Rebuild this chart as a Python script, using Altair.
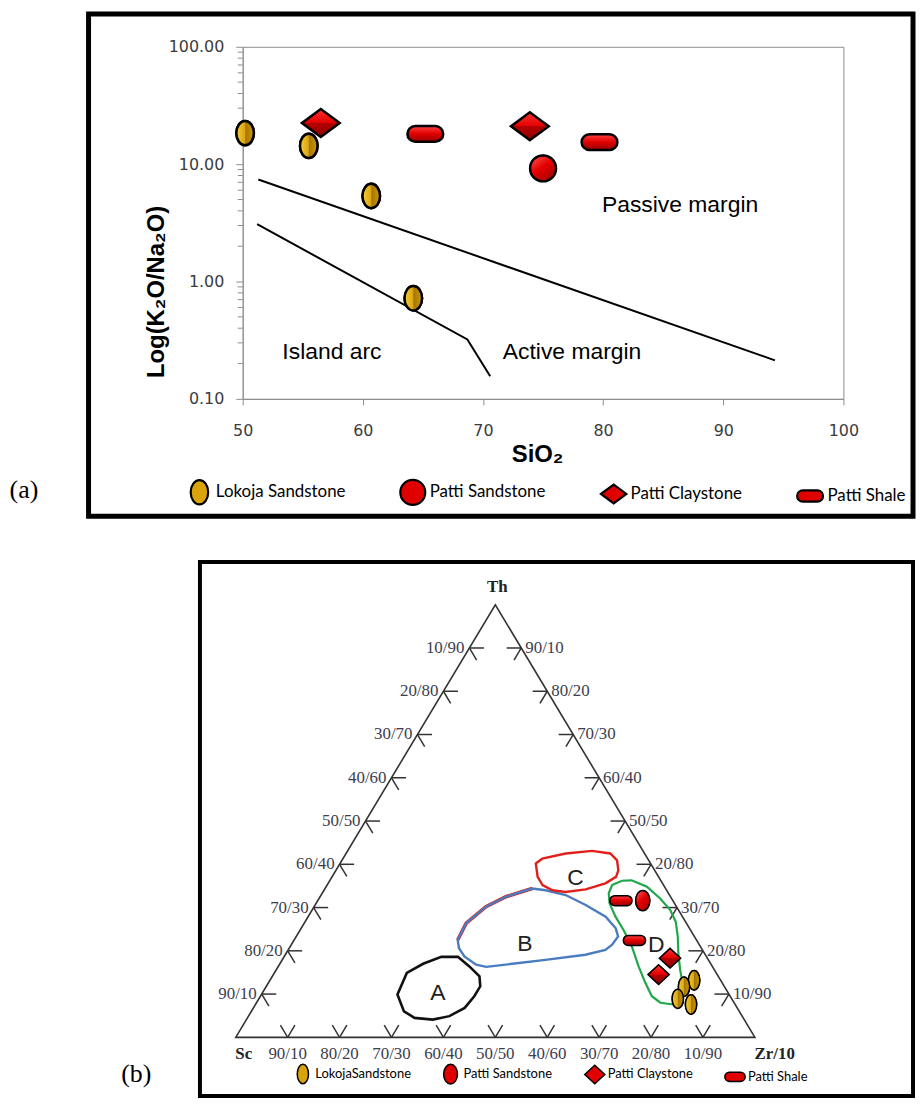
import altair as alt
import pandas as pd

# ======================= DATA =======================
rock_types = ["Lokoja Sandstone", "Patti Sandstone", "Patti Claystone", "Patti Shale"]

# ---- (a) K2O/Na2O (log) vs SiO2 ----
lokoja_sio2 = [50.2, 55.5, 60.7, 64.2]
lokoja_k2o_na2o = [18.4, 14.3, 5.35, 0.72]
patti_sandstone_sio2 = [75.0]
patti_sandstone_k2o_na2o = [9.2]
patti_claystone_sio2 = [56.5, 73.9]
patti_claystone_k2o_na2o = [22.4, 21.0]
patti_shale_sio2 = [65.2, 79.7]
patti_shale_k2o_na2o = [18.1, 15.4]

passive_line_sio2 = [51.3, 94.3]
passive_line_ratio = [7.4, 0.213]
arc_line_sio2 = [51.2, 68.7, 70.6]
arc_line_ratio = [3.08, 0.321, 0.156]

setting_names = ["Passive margin", "Island arc", "Active margin"]
setting_sio2 = [79.9, 53.3, 71.65]
setting_ratio = [4.48, 0.249, 0.249]

sio2_ticks = [50, 60, 70, 80, 90, 100]
ratio_ticks = [0.1, 1.0, 10.0, 100.0]
ratio_minor_ticks = [0.2, 0.3, 0.4, 0.5, 0.6, 0.7, 0.8, 0.9,
                     2, 3, 4, 5, 6, 7, 8, 9,
                     20, 30, 40, 50, 60, 70, 80, 90]

# ---- (b) Th - Sc - Zr/10 ternary (percent) ----
lokoja_th = [13.2, 11.7, 8.9, 7.6]
lokoja_sc = [5.1, 7.8, 10.4, 8.5]
lokoja_zr = [81.7, 80.5, 80.7, 83.9]
patti_sandstone_th = [31.6]
patti_sandstone_sc = [5.8]
patti_sandstone_zr = [62.6]
patti_claystone_th = [18.3, 14.5]
patti_claystone_sc = [7.2, 11.3]
patti_claystone_zr = [74.5, 74.2]
patti_shale_th = [31.6, 22.4]
patti_shale_sc = [10.0, 12.0]
patti_shale_zr = [58.4, 65.6]

# provenance fields (outline vertices as Th %, Zr/10 %; Sc = remainder)
field_a_th = [9.9, 14.9, 17.0, 18.6, 18.6, 16.4, 14.1, 11.8, 9.5, 6.8, 4.9, 4.1, 4.5, 6.0]
field_a_zr = [26.2, 25.5, 27.6, 30.3, 33.5, 36.8, 39.9, 41.2, 41.2, 40.7, 38.7, 35.9, 32.2, 29.4]
field_b_th = [22.5, 26.4, 30.2, 32.5, 34.4, 34.0, 32.9, 30.6, 27.9, 25.2, 23.3, 21.4, 20.2, 19.1,
              17.9, 17.0, 16.3, 16.8, 18.7, 20.6]
field_b_zr = [31.5, 31.2, 33.1, 35.8, 39.9, 42.7, 47.1, 52.1, 57.3, 60.6, 62.0, 61.8, 61.1, 57.8,
              50.7, 44.8, 40.1, 37.9, 34.7, 32.7]
field_c_th = [40.2, 41.3, 42.5, 43.1, 42.5, 40.9, 38.6, 37.1, 35.6, 34.2, 33.6, 34.0, 35.2, 37.1]
field_c_zr = [37.7, 38.4, 42.3, 47.1, 50.9, 53.0, 54.4, 54.7, 53.4, 50.3, 46.7, 44.0, 41.5, 39.6]
field_d_th = [35.2, 36.2, 36.3, 34.8, 32.1, 29.4, 26.7, 23.3, 19.5, 15.6, 11.8, 8.7, 7.6, 8.0,
              9.5, 12.6, 16.4, 21.0, 24.8, 27.9, 31.0, 33.3]
field_d_zr = [54.9, 56.3, 58.1, 61.8, 65.7, 69.0, 71.4, 73.5, 75.5, 77.8, 80.3, 81.5, 80.5, 77.8,
              75.4, 72.6, 69.4, 65.8, 62.3, 59.2, 56.5, 55.2]
field_names = ["A", "B", "C", "D"]
field_label_th = [10.3, 21.6, 36.9, 21.4]
field_label_zr = [33.8, 44.9, 47.0, 70.3]

tick_steps = [10, 20, 30, 40, 50, 60, 70, 80, 90]
left_tick_labels = ["10/90", "20/80", "30/70", "40/60", "50/50", "60/40", "70/30", "80/20", "90/10"]
right_tick_labels = ["90/10", "80/20", "70/30", "60/40", "50/50", "20/80", "30/70", "20/80", "10/90"]
base_tick_labels = ["90/10", "80/20", "70/30", "60/40", "50/50", "40/60", "30/70", "20/80", "10/90"]

# ======================= STYLE =======================
FONT_SANS = "Liberation Sans, Arial, DejaVu Sans, sans-serif"
FONT_NUM = "DejaVu Sans, sans-serif"
FONT_SERIF = "Liberation Serif, Times New Roman, DejaVu Serif, serif"
FONT_LEGEND = "Lato, Liberation Sans, sans-serif"

ELLIPSE_A = "M0,-1A0.72,1 0 1,1 0,1A0.72,1 0 1,1 0,-1Z"
DIAMOND_A = "M-1,0L0,-0.74L1,0L0,0.74Z"
CAPSULE_A = "M-0.56,-0.44L0.56,-0.44A0.44,0.44 0 0,1 0.56,0.44L-0.56,0.44A0.44,0.44 0 0,1 -0.56,-0.44Z"
ELLIPSE_B = "M0,-1A0.58,1 0 1,1 0,1A0.58,1 0 1,1 0,-1Z"
RED_ELLIPSE_B = "M0,-1A0.7,1 0 1,1 0,1A0.7,1 0 1,1 0,-1Z"
DIAMOND_B = "M-1,0L0,-0.92L1,0L0,0.92Z"
CAPSULE_B = "M-0.55,-0.45L0.55,-0.45A0.45,0.45 0 0,1 0.55,0.45L-0.55,0.45A0.45,0.45 0 0,1 -0.55,-0.45Z"

SOLID_COLORS = ["#D9A30C", "#E00000", "#E00000", "#E00000"]
SHAPES_A = [ELLIPSE_A, "circle", DIAMOND_A, CAPSULE_A]
SIZES_A = [600, 680, 1444, 1296]
SHAPES_B = [ELLIPSE_B, RED_ELLIPSE_B, DIAMOND_B, CAPSULE_B]
SIZES_B = [380, 420, 460, 500]


def stops(pairs):
    return [alt.GradientStop(color=c, offset=o) for c, o in pairs]


GOLD = alt.LinearGradient(gradient="linear", x1=0, y1=0, x2=1, y2=0,
                          stops=stops([("#F6CC3A", 0), ("#DDA611", 0.47), ("#A57700", 0.53), ("#CF9A06", 1)]))
RED_ROUND = alt.LinearGradient(gradient="linear", x1=0.15, y1=0, x2=0.85, y2=1,
                               stops=stops([("#FF5050", 0), ("#E40000", 0.45), ("#A00000", 1)]))
RED_DIAMOND = alt.LinearGradient(gradient="linear", x1=0, y1=0, x2=0, y2=1,
                                 stops=stops([("#FF3030", 0), ("#E20000", 0.5), ("#B40000", 0.5), ("#8E0000", 1)]))
RED_CAPSULE = alt.LinearGradient(gradient="linear", x1=0, y1=0, x2=0, y2=1,
                                 stops=stops([("#FF4040", 0), ("#E00000", 0.5), ("#960000", 1)]))
FILLS = [GOLD, RED_ROUND, RED_DIAMOND, RED_CAPSULE]

one = pd.DataFrame({"k": [0]})

# ======================= PANEL (a) =======================
WA, HA = 604, 354
pts_a = pd.concat([
    pd.DataFrame({"rock": rock_types[0], "sio2": lokoja_sio2, "ratio": lokoja_k2o_na2o}),
    pd.DataFrame({"rock": rock_types[1], "sio2": patti_sandstone_sio2, "ratio": patti_sandstone_k2o_na2o}),
    pd.DataFrame({"rock": rock_types[2], "sio2": patti_claystone_sio2, "ratio": patti_claystone_k2o_na2o}),
    pd.DataFrame({"rock": rock_types[3], "sio2": patti_shale_sio2, "ratio": patti_shale_k2o_na2o}),
], ignore_index=True)

lines_a = pd.concat([
    pd.DataFrame({"line": "passive", "idx": range(len(passive_line_sio2)),
                  "sio2": passive_line_sio2, "ratio": passive_line_ratio}),
    pd.DataFrame({"line": "arc", "idx": range(len(arc_line_sio2)),
                  "sio2": arc_line_sio2, "ratio": arc_line_ratio}),
], ignore_index=True)
settings_a = pd.DataFrame({"name": setting_names, "sio2": setting_sio2, "ratio": setting_ratio})
minor_a = pd.DataFrame({"ratio": ratio_minor_ticks})

x_a = alt.X("sio2:Q", scale=alt.Scale(domain=[50, 100], nice=False, zero=False),
            axis=alt.Axis(values=sio2_ticks, title="SiO₂", grid=False, tickSize=6,
                          tickColor="#8c8c8c", domainColor="#8c8c8c", labelFlush=False,
                          labelFont=FONT_NUM, labelFontSize=16, labelColor="#3c3c3c", labelPadding=18,
                          titleFont=FONT_SANS, titleFontSize=24, titleFontWeight="bold",
                          titleColor="black", titleX=296, titleY=56, titleBaseline="middle",
                          titleAlign="center"))
y_a = alt.Y("ratio:Q", scale=alt.Scale(type="log", domain=[0.1, 100], nice=False),
            axis=alt.Axis(values=ratio_ticks, format=".2f", title="Log(K₂O/Na₂O)", grid=False,
                          tickSize=7, tickColor="#8c8c8c", domainColor="#8c8c8c",
                          labelFont=FONT_NUM, labelFontSize=16, labelColor="#3c3c3c", labelPadding=12,
                          titleFont=FONT_SANS, titleFontSize=24, titleFontWeight="bold",
                          titleColor="black", titleAngle=-90, titleX=-87, titleY=246,
                          titleBaseline="middle", titleAlign="center"))

leg_a = alt.Legend(title=None, orient="none", legendX=-57, legendY=434, direction="horizontal",
                   labelFont=FONT_LEGEND, labelFontSize=17, labelColor="black", labelOffset=3,
                   columnPadding=50, symbolStrokeColor="black", symbolStrokeWidth=2.2, padding=0)

frame_a = alt.Chart(one).mark_rect(fill="transparent", stroke="black", strokeWidth=5).encode(
    x=alt.value(-155), x2=alt.value(674), y=alt.value(-33), y2=alt.value(472))
tag_a = alt.Chart(one).mark_text(font=FONT_SERIF, fontSize=26, align="center", baseline="middle",
                                 color="black").encode(x=alt.value(-220), y=alt.value(446),
                                                       text=alt.value("(a)"))
minor_layer = alt.Chart(minor_a).mark_rule(color="#8c8c8c", strokeWidth=1).encode(
    y=y_a, x=alt.value(-5), x2=alt.value(0))
line_layer = alt.Chart(lines_a).mark_line(color="black", strokeWidth=2).encode(
    x=x_a, y=y_a, detail="line:N", order="idx:Q")
setting_layer = alt.Chart(settings_a).mark_text(align="left", baseline="middle", font=FONT_SANS,
                                                fontSize=23, color="black").encode(
    x=x_a, y=y_a, text="name:N")
base_a = alt.Chart(pts_a).mark_point(filled=True, opacity=1, stroke="black", strokeWidth=2.5).encode(
    x=x_a, y=y_a,
    color=alt.Color("rock:N", scale=alt.Scale(domain=rock_types, range=SOLID_COLORS), legend=leg_a),
    shape=alt.Shape("rock:N", scale=alt.Scale(domain=rock_types, range=SHAPES_A), legend=leg_a),
    size=alt.Size("rock:N", scale=alt.Scale(domain=rock_types, range=SIZES_A), legend=leg_a),
)
overlays_a = []
for i, r in enumerate(rock_types):
    overlays_a.append(
        alt.Chart(pts_a).transform_filter(alt.datum.rock == r).mark_point(
            shape=SHAPES_A[i], size=SIZES_A[i], filled=True, fill=FILLS[i], stroke="black",
            strokeWidth=2.5, opacity=1).encode(x=x_a, y=y_a))

chart_a = alt.layer(frame_a, tag_a, minor_layer, line_layer, setting_layer, base_a, *overlays_a).properties(
    width=WA, height=HA, view=alt.ViewBackground(stroke="#8c8c8c", strokeWidth=1))

# ======================= PANEL (b) =======================
WB, HB = 515, 435


def ternary_xy(th, sc, zr):
    s = th + sc + zr
    return 100.0 * (zr + 0.5 * th) / s, 100.0 * th / s


def tern_points(rock, ths, scs, zrs):
    rows = []
    for t, s, z in zip(ths, scs, zrs):
        x, y = ternary_xy(t, s, z)
        rows.append({"rock": rock, "tx": x, "ty": y})
    return rows


pts_b = pd.DataFrame(
    tern_points(rock_types[0], lokoja_th, lokoja_sc, lokoja_zr)
    + tern_points(rock_types[1], patti_sandstone_th, patti_sandstone_sc, patti_sandstone_zr)
    + tern_points(rock_types[2], patti_claystone_th, patti_claystone_sc, patti_claystone_zr)
    + tern_points(rock_types[3], patti_shale_th, patti_shale_sc, patti_shale_zr))


def field_df(ths, zrs):
    rows = []
    for i, (t, z) in enumerate(zip(ths, zrs)):
        x, y = ternary_xy(t, 100 - t - z, z)
        rows.append({"idx": i, "tx": x, "ty": y})
    return pd.DataFrame(rows)


tri_rows = []
for i, (t, s, z) in enumerate([(0, 100, 0), (0, 0, 100), (100, 0, 0)]):
    x, y = ternary_xy(t, s, z)
    tri_rows.append({"idx": i, "tx": x, "ty": y})
tri_df = pd.DataFrame(tri_rows)

L = 2.8
tick_rows, left_rows, right_rows, base_rows = [], [], [], []
for i, k in enumerate(tick_steps):
    # left side (Sc-Th)
    p = (100 - k, k, 0)
    for e in [(100 - k, k - L, L), (100 - k - L, k, L)]:
        x0, y0 = ternary_xy(*p)
        x1, y1 = ternary_xy(*e)
        tick_rows.append({"tx": x0, "ty": y0, "tx2": x1, "ty2": y1})
    x0, y0 = ternary_xy(*p)
    left_rows.append({"tx": x0, "ty": y0, "label": left_tick_labels[i]})
    # right side (Th-Zr)
    p = (100 - k, 0, k)
    for e in [(100 - k, L, k - L), (100 - k - L, L, k)]:
        x0, y0 = ternary_xy(*p)
        x1, y1 = ternary_xy(*e)
        tick_rows.append({"tx": x0, "ty": y0, "tx2": x1, "ty2": y1})
    x0, y0 = ternary_xy(*p)
    right_rows.append({"tx": x0, "ty": y0, "label": right_tick_labels[i]})
    # base (Sc-Zr)
    p = (0, 100 - k, k)
    for e in [(L, 100 - k, k - L), (L, 100 - k - L, k)]:
        x0, y0 = ternary_xy(*p)
        x1, y1 = ternary_xy(*e)
        tick_rows.append({"tx": x0, "ty": y0, "tx2": x1, "ty2": y1})
    x0, y0 = ternary_xy(*p)
    base_rows.append({"tx": x0, "ty": y0, "label": base_tick_labels[i]})

x_b = alt.X("tx:Q", scale=alt.Scale(domain=[1.341, 100], nice=False, zero=False), axis=None)
y_b = alt.Y("ty:Q", scale=alt.Scale(domain=[0, 100], nice=False, zero=False), axis=None)

frame_b = alt.Chart(one).mark_rect(fill="transparent", stroke="black", strokeWidth=4).encode(
    x=alt.value(-43), x2=alt.value(674), y=alt.value(-43), y2=alt.value(494))
tag_b = alt.Chart(one).mark_text(font=FONT_SERIF, fontSize=26, align="center", baseline="middle",
                                 color="black").encode(x=alt.value(-107), y=alt.value(472),
                                                       text=alt.value("(b)"))
tri_layer = alt.Chart(tri_df).mark_line(interpolate="linear-closed", color="#333333",
                                        strokeWidth=1.6).encode(x=x_b, y=y_b, order="idx:Q")
tick_layer = alt.Chart(pd.DataFrame(tick_rows)).mark_rule(color="#333333", strokeWidth=1.5).encode(
    x=x_b, y=y_b, x2="tx2:Q", y2="ty2:Q")
TICK_COLOR = "#3d3d4d"
left_lab = alt.Chart(pd.DataFrame(left_rows)).mark_text(
    font=FONT_SERIF, fontSize=17, align="right", baseline="middle", dx=-5, color=TICK_COLOR).encode(
    x=x_b, y=y_b, text="label:N")
right_lab = alt.Chart(pd.DataFrame(right_rows)).mark_text(
    font=FONT_SERIF, fontSize=17, align="left", baseline="middle", dx=4, color=TICK_COLOR).encode(
    x=x_b, y=y_b, text="label:N")
base_lab = alt.Chart(pd.DataFrame(base_rows)).mark_text(
    font=FONT_SERIF, fontSize=17, align="center", baseline="middle", dy=17, color=TICK_COLOR).encode(
    x=x_b, y=y_b, text="label:N")


def corner(t, s, z, label, dx, dy):
    x, y = ternary_xy(t, s, z)
    return alt.Chart(pd.DataFrame({"tx": [x], "ty": [y], "label": [label]})).mark_text(
        font=FONT_SERIF, fontSize=17, fontWeight="bold", align="center", baseline="middle",
        dx=dx, dy=dy, color="#222222").encode(x=x_b, y=y_b, text="label:N")


corner_th = corner(100, 0, 0, "Th", 2, -18)
corner_sc = corner(0, 100, 0, "Sc", 8, 17)
corner_zr = corner(0, 0, 100, "Zr/10", 20, 17)

fa, fb, fc, fd = (field_df(field_a_th, field_a_zr), field_df(field_b_th, field_b_zr),
                  field_df(field_c_th, field_c_zr), field_df(field_d_th, field_d_zr))
b_edge = fb[fb["idx"] <= 4]
edge_layer = alt.Chart(b_edge).mark_line(color="#E0201B", strokeWidth=3.6).encode(x=x_b, y=y_b, order="idx:Q")
fa_layer = alt.Chart(fa).mark_line(interpolate="linear-closed", color="#111111", strokeWidth=2.6).encode(
    x=x_b, y=y_b, order="idx:Q")
fb_layer = alt.Chart(fb).mark_line(interpolate="linear-closed", color="#4A7CC0", strokeWidth=2.4).encode(
    x=x_b, y=y_b, order="idx:Q")
fc_layer = alt.Chart(fc).mark_line(interpolate="linear-closed", color="#E0201B", strokeWidth=2.4).encode(
    x=x_b, y=y_b, order="idx:Q")
fd_layer = alt.Chart(fd).mark_line(interpolate="linear-closed", color="#1FA84A", strokeWidth=2.2).encode(
    x=x_b, y=y_b, order="idx:Q")

flab_rows = []
for n, t, z in zip(field_names, field_label_th, field_label_zr):
    x, y = ternary_xy(t, 100 - t - z, z)
    flab_rows.append({"tx": x, "ty": y, "name": n})
flab_layer = alt.Chart(pd.DataFrame(flab_rows)).mark_text(
    font=FONT_SANS, fontSize=23, align="center", baseline="middle", color="#222222").encode(
    x=x_b, y=y_b, text="name:N")

leg_b = alt.Legend(title=None, orient="none", legendX=50, legendY=461, direction="horizontal",
                   labelFont=FONT_LEGEND, labelFontSize=13, labelColor="black", labelOffset=2,
                   columnPadding=28, symbolStrokeColor="black", symbolStrokeWidth=1.5, padding=0,
                   labelExpr="datum.label == 'Lokoja Sandstone' ? 'LokojaSandstone' : datum.label")
base_b = alt.Chart(pts_b).mark_point(filled=True, opacity=1, stroke="black", strokeWidth=1.5).encode(
    x=x_b, y=y_b,
    color=alt.Color("rock:N", scale=alt.Scale(domain=rock_types, range=SOLID_COLORS), legend=leg_b),
    shape=alt.Shape("rock:N", scale=alt.Scale(domain=rock_types, range=SHAPES_B), legend=leg_b),
    size=alt.Size("rock:N", scale=alt.Scale(domain=rock_types, range=SIZES_B), legend=leg_b),
)
overlays_b = []
for i, r in enumerate(rock_types):
    overlays_b.append(
        alt.Chart(pts_b).transform_filter(alt.datum.rock == r).mark_point(
            shape=SHAPES_B[i], size=SIZES_B[i], filled=True, fill=FILLS[i], stroke="black",
            strokeWidth=1.5, opacity=1).encode(x=x_b, y=y_b))

chart_b = alt.layer(frame_b, tag_b, tri_layer, tick_layer, left_lab, right_lab, base_lab,
                    corner_th, corner_sc, corner_zr, edge_layer, fa_layer, fb_layer, fc_layer,
                    fd_layer, flab_layer, base_b, *overlays_b).properties(width=WB, height=HB)

chart = alt.vconcat(chart_a, chart_b, spacing=207, bounds="flush").resolve_scale(
    color="independent", shape="independent", size="independent").resolve_legend(
    color="independent", shape="independent", size="independent").properties(
    padding={"left": 1, "top": 0, "right": 0, "bottom": 0}, background="white").configure_view(
    stroke="transparent")

chart.save("out.html", embed_options={"renderer": "svg", "actions": False})
